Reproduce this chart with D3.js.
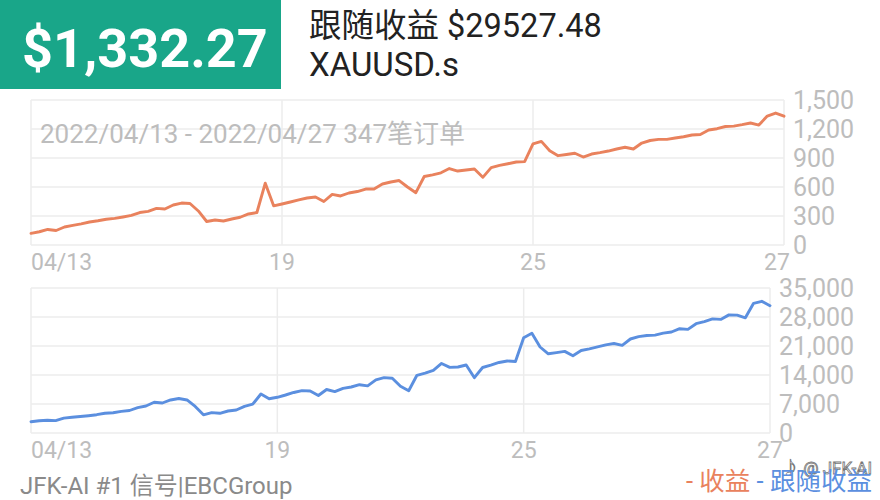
<!DOCTYPE html>
<html><head><meta charset="utf-8">
<script src="https://cdn.jsdelivr.net/npm/d3@7/dist/d3.min.js"></script>
<style>
body{margin:0;background:#fff;}
svg{display:block;font-family:Roboto,"Noto Sans CJK SC",sans-serif;}
</style>
</head><body>
<svg id="c" width="880" height="500"></svg>
<script>
// ---- data ----
const headline = "$1,332.27";
const followTitle = "跟随收益 $29527.48";
const symbol = "XAUUSD.s";
const subtitle = "2022/04/13 - 2022/04/27 347笔订单";
const footer = "JFK-AI #1 信号|EBCGroup";
const legendLabels = ["收益", "跟随收益"];
const watermark = "♪ @ JFK-AI";

const xTickIndex = [0, 30, 60, 90];
const xTickLabels = ["04/13", "19", "25", "27"];
const profitTicks = [0, 300, 600, 900, 1200, 1500];
const followTicks = [0, 7000, 14000, 21000, 28000, 35000];

const profit = [
  121,137,161,150,186,203,219,238,251,266,
  275,290,306,336,348,379,372,414,434,429,
  352,243,259,248,269,287,321,336,640,405,
  424,445,466,486,497,450,524,507,538,553,
  579,579,631,652,667,600,541,709,726,747,
  791,765,776,786,700,800,824,841,859,862,
  1045,1072,975,924,936,949,910,941,955,972,
  993,1011,993,1055,1081,1093,1093,1107,1120,1138,
  1143,1190,1203,1226,1230,1245,1262,1241,1334,1365,
  1332.27
];
const follow = [
  2728,2970,3090,2990,3600,3790,3980,4180,4420,4760,
  4900,5210,5430,6130,6520,7430,7240,7970,8330,7970,
  6400,4390,4920,4760,5310,5550,6420,6950,9410,8260,
  8620,9170,9780,10230,10140,9050,10500,9990,10770,11100,
  11660,11390,12840,13370,13230,11270,10210,13930,14430,15130,
  16780,15830,15930,16410,13350,15810,16370,17020,17380,17260,
  23000,24070,20760,19120,19410,19700,18660,19910,20300,20780,
  21270,21600,21170,22690,23270,23540,23630,24110,24380,25180,
  25010,26380,26870,27540,27420,28510,28460,27800,31310,31790,
  30730
];

// ---- drawing ----
const svg = d3.select("#c");
const GRID = "#ececec", LABEL = "#bdbdbd";
const ORANGE = "#e9825d", BLUE = "#5b8fdf";

// header
svg.append("rect").attr("x",0).attr("y",0).attr("width",281).attr("height",89).attr("fill","#19a689");
svg.append("text").attr("x",22).attr("y",67).attr("fill","#fff")
  .attr("font-size",54).attr("font-weight",700).text(headline);
svg.append("text").attr("x",309).attr("y",37).attr("fill","#222")
  .attr("font-size",32.5).text(followTitle);
svg.append("text").attr("x",309).attr("y",76).attr("fill","#222")
  .attr("font-size",33).text(symbol);

function panel(cfg){
  const g = svg.append("g");
  const x = d3.scaleLinear().domain([0, cfg.values.length-1]).range([cfg.left, cfg.right]);
  const y = d3.scaleLinear().domain([0, d3.max(cfg.ticks)]).range([cfg.bottom, cfg.top]);
  g.selectAll(".hg").data(cfg.ticks).join("line")
    .attr("x1",cfg.left).attr("x2",cfg.right)
    .attr("y1",d=>y(d)).attr("y2",d=>y(d))
    .attr("stroke",GRID).attr("stroke-width",1.5);
  g.selectAll(".vg").data(xTickIndex).join("line")
    .attr("x1",d=>x(d)).attr("x2",d=>x(d))
    .attr("y1",cfg.top).attr("y2",cfg.bottom)
    .attr("stroke",GRID).attr("stroke-width",1.5);
  if (cfg.subtitle){
    g.append("text").attr("x",40).attr("y",143).attr("fill",LABEL)
      .attr("font-size",26).text(cfg.subtitle);
  }
  const line = d3.line().x((d,i)=>x(i)).y(d=>y(d)).curve(d3.curveLinear);
  g.append("path").datum(cfg.values).attr("d",line)
    .attr("fill","none").attr("stroke",cfg.color).attr("stroke-width",2.9)
    .attr("stroke-linejoin","round").attr("stroke-linecap","round");
  g.selectAll(".yl").data(cfg.ticks).join("text")
    .attr("x",cfg.right+9).attr("y",d=>y(d)).attr("dy","0.36em")
    .attr("fill",LABEL).attr("font-size",25)
    .text(d=>d3.format(",")(d));
  g.selectAll(".xl").data(xTickIndex).join("text")
    .attr("x",(d,i)=> i===0 ? x(d) : Math.min(x(d), 777))
    .attr("y",cfg.bottom+25)
    .attr("text-anchor",(d,i)=> i===0 ? "start" : "middle")
    .attr("fill",LABEL).attr("font-size",23)
    .text((d,i)=>xTickLabels[i]);
}

panel({values:profit, ticks:profitTicks, left:31, right:784, top:100, bottom:245,
       color:ORANGE, subtitle:subtitle});
panel({values:follow, ticks:followTicks, left:31, right:770, top:288, bottom:433,
       color:BLUE});

// footer
svg.append("text").attr("x",20).attr("y",494).attr("fill","#8a8a8a")
  .attr("font-size",24).text(footer);
// watermark (under legend)
svg.append("text").attr("x",782).attr("y",474).attr("fill","#fff").attr("fill-opacity",0.85)
  .attr("stroke","#777").attr("stroke-width",0.8).attr("font-size",17).text(watermark);
// legend
const leg = svg.append("text").attr("x",872).attr("y",490).attr("text-anchor","end").attr("font-size",25.5);
leg.append("tspan").attr("fill",ORANGE).text("- ");
leg.append("tspan").attr("fill",ORANGE).text(legendLabels[0]);
leg.append("tspan").attr("fill",BLUE).text(" - ");
leg.append("tspan").attr("fill",BLUE).text(legendLabels[1]);
</script>
</body></html>
